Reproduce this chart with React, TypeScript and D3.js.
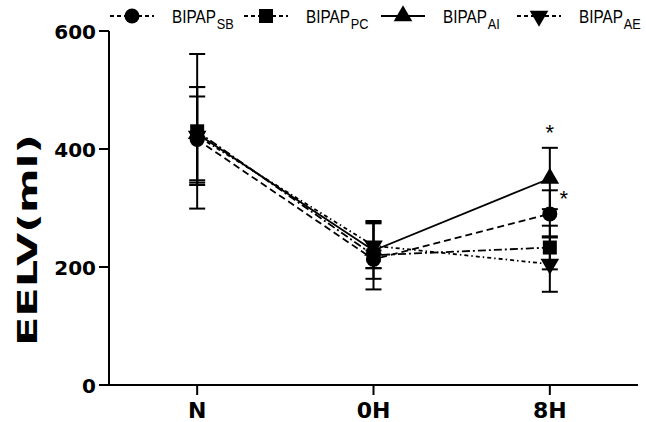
import React from "react";
import { scaleLinear, scalePoint, line, symbol, symbolTriangle } from "d3";

const timepoints = ["N", "0H", "8H"];
const yTicks = [0, 200, 400, 600];

// mean and SD per time point
const sbMean = [416, 213, 290];
const sbSd = [73, 15, 40];
const pcMean = [430, 220, 233];
const pcSd = [131, 58, 37];
const aiMean = [426, 228, 350];
const aiSd = [79, 48, 52];
const aeMean = [422, 236, 205];
const aeSd = [83, 38, 47];

const seriesNames = ["SB", "PC", "AI", "AE"];
const significant = [
  { series: "AI", time: "8H" },
  { series: "SB", time: "8H" },
];

const W = 646;
const H = 422;
const FONT = "'DejaVu Sans', sans-serif";
const LEGEND_FONT = "'Liberation Sans', Arial, sans-serif";

const series = [
  { key: "SB", mean: sbMean, sd: sbSd, dash: "7,4", shape: "circle" },
  { key: "PC", mean: pcMean, sd: pcSd, dash: "8,3,2,3", shape: "square" },
  { key: "AI", mean: aiMean, sd: aiSd, dash: null, shape: "triangle" },
  { key: "AE", mean: aeMean, sd: aeSd, dash: "4,3,1.5,3", shape: "down" },
];

const Marker = ({ shape, x, y }) => {
  if (shape === "circle") return <circle cx={x} cy={y} r={7.5} fill="#000" />;
  if (shape === "square") return <rect x={x - 7} y={y - 7} width={14} height={14} fill="#000" />;
  const d = symbol(symbolTriangle, 150)();
  return (
    <path
      d={d}
      fill="#000"
      transform={`translate(${x},${y})${shape === "down" ? " rotate(180)" : ""}`}
    />
  );
};

export default function App() {
  const x = scalePoint().domain(timepoints).range([109, 638]).padding(0.5);
  const y = scaleLinear().domain([0, 600]).range([385, 31]);

  const lineGen = line()
    .x((d, i) => x(timepoints[i]))
    .y((d) => y(d));

  const capW = 8;
  const legendX = [132, 266, 403, 539];

  return (
    <svg
      width={W}
      height={H}
      style={{ position: "absolute", left: 0, top: 0, background: "#fff" }}
    >
      {/* axes */}
      <g stroke="#000" strokeWidth={2} fill="none">
        <line x1={109} x2={109} y1={y(600)} y2={y(0)} />
        <line x1={109} x2={638} y1={y(0)} y2={y(0)} />
        {yTicks.map((t) => (
          <line key={t} x1={99} x2={109} y1={y(t)} y2={y(t)} />
        ))}
        {timepoints.map((t) => (
          <line key={t} x1={x(t)} x2={x(t)} y1={y(0)} y2={y(0) + 10} />
        ))}
      </g>
      {yTicks.map((t) => (
        <text
          key={t}
          x={96}
          y={y(t) + 7.5}
          textAnchor="end"
          fontFamily={FONT}
          fontWeight="bold"
          fontSize={20}
        >
          {t}
        </text>
      ))}
      {timepoints.map((t) => (
        <text
          key={t}
          x={x(t)}
          y={418}
          textAnchor="middle"
          fontFamily={FONT}
          fontWeight="bold"
          fontSize={22}
        >
          {t}
        </text>
      ))}
      <text
        transform="translate(37,240) rotate(-90)"
        textAnchor="middle"
        fontFamily={FONT}
        fontWeight="bold"
        fontSize={27}
        textLength={212}
        lengthAdjust="spacingAndGlyphs"
      >
        EELV(ml)
      </text>

      {/* lines */}
      {series.map((s) => (
        <path
          key={s.key}
          d={lineGen(s.mean)}
          fill="none"
          stroke="#000"
          strokeWidth={1.8}
          strokeDasharray={s.dash || undefined}
        />
      ))}

      {/* error bars */}
      {series.map((s) =>
        s.mean.map((m, i) => {
          const cx = x(timepoints[i]);
          const hi = y(m + s.sd[i]);
          const lo = y(m - s.sd[i]);
          return (
            <g key={s.key + i} stroke="#000" strokeWidth={2}>
              <line x1={cx} x2={cx} y1={hi} y2={lo} />
              <line x1={cx - capW} x2={cx + capW} y1={hi} y2={hi} />
              <line x1={cx - capW} x2={cx + capW} y1={lo} y2={lo} />
            </g>
          );
        })
      )}

      {/* markers */}
      {series.map((s) =>
        s.mean.map((m, i) => (
          <Marker key={s.key + "m" + i} shape={s.shape} x={x(timepoints[i])} y={y(m)} />
        ))
      )}

      {/* significance */}
      {significant.map((d) => {
        const s = series.find((e) => e.key === d.series);
        const i = timepoints.indexOf(d.time);
        const top = y(s.mean[i] + s.sd[i]);
        const dx = d.series === "AI" ? 0 : 14;
        const dy = d.series === "AI" ? -8 : 16;
        return (
          <text
            key={d.series}
            x={x(d.time) + dx}
            y={top + dy}
            textAnchor="middle"
            fontFamily={LEGEND_FONT}
            fontSize={22}
          >
            *
          </text>
        );
      })}

      {/* legend */}
      {series.map((s, i) => {
        const cx = legendX[i];
        return (
          <g key={"leg" + s.key}>
            <line
              x1={cx - 22}
              x2={cx + 22}
              y1={16}
              y2={16}
              stroke="#000"
              strokeWidth={1.8}
              strokeDasharray={s.dash ? "4,3" : undefined}
            />
            <Marker shape={s.shape} x={cx} y={16} />
            <text
              transform={`translate(${cx + 40},23) scale(0.85,1)`}
              fontFamily={LEGEND_FONT}
              fontSize={18}
            >
              BIPAP
              <tspan dx={1} dy={6} fontSize={15}>
                {seriesNames[i]}
              </tspan>
            </text>
          </g>
        );
      })}
    </svg>
  );
}
